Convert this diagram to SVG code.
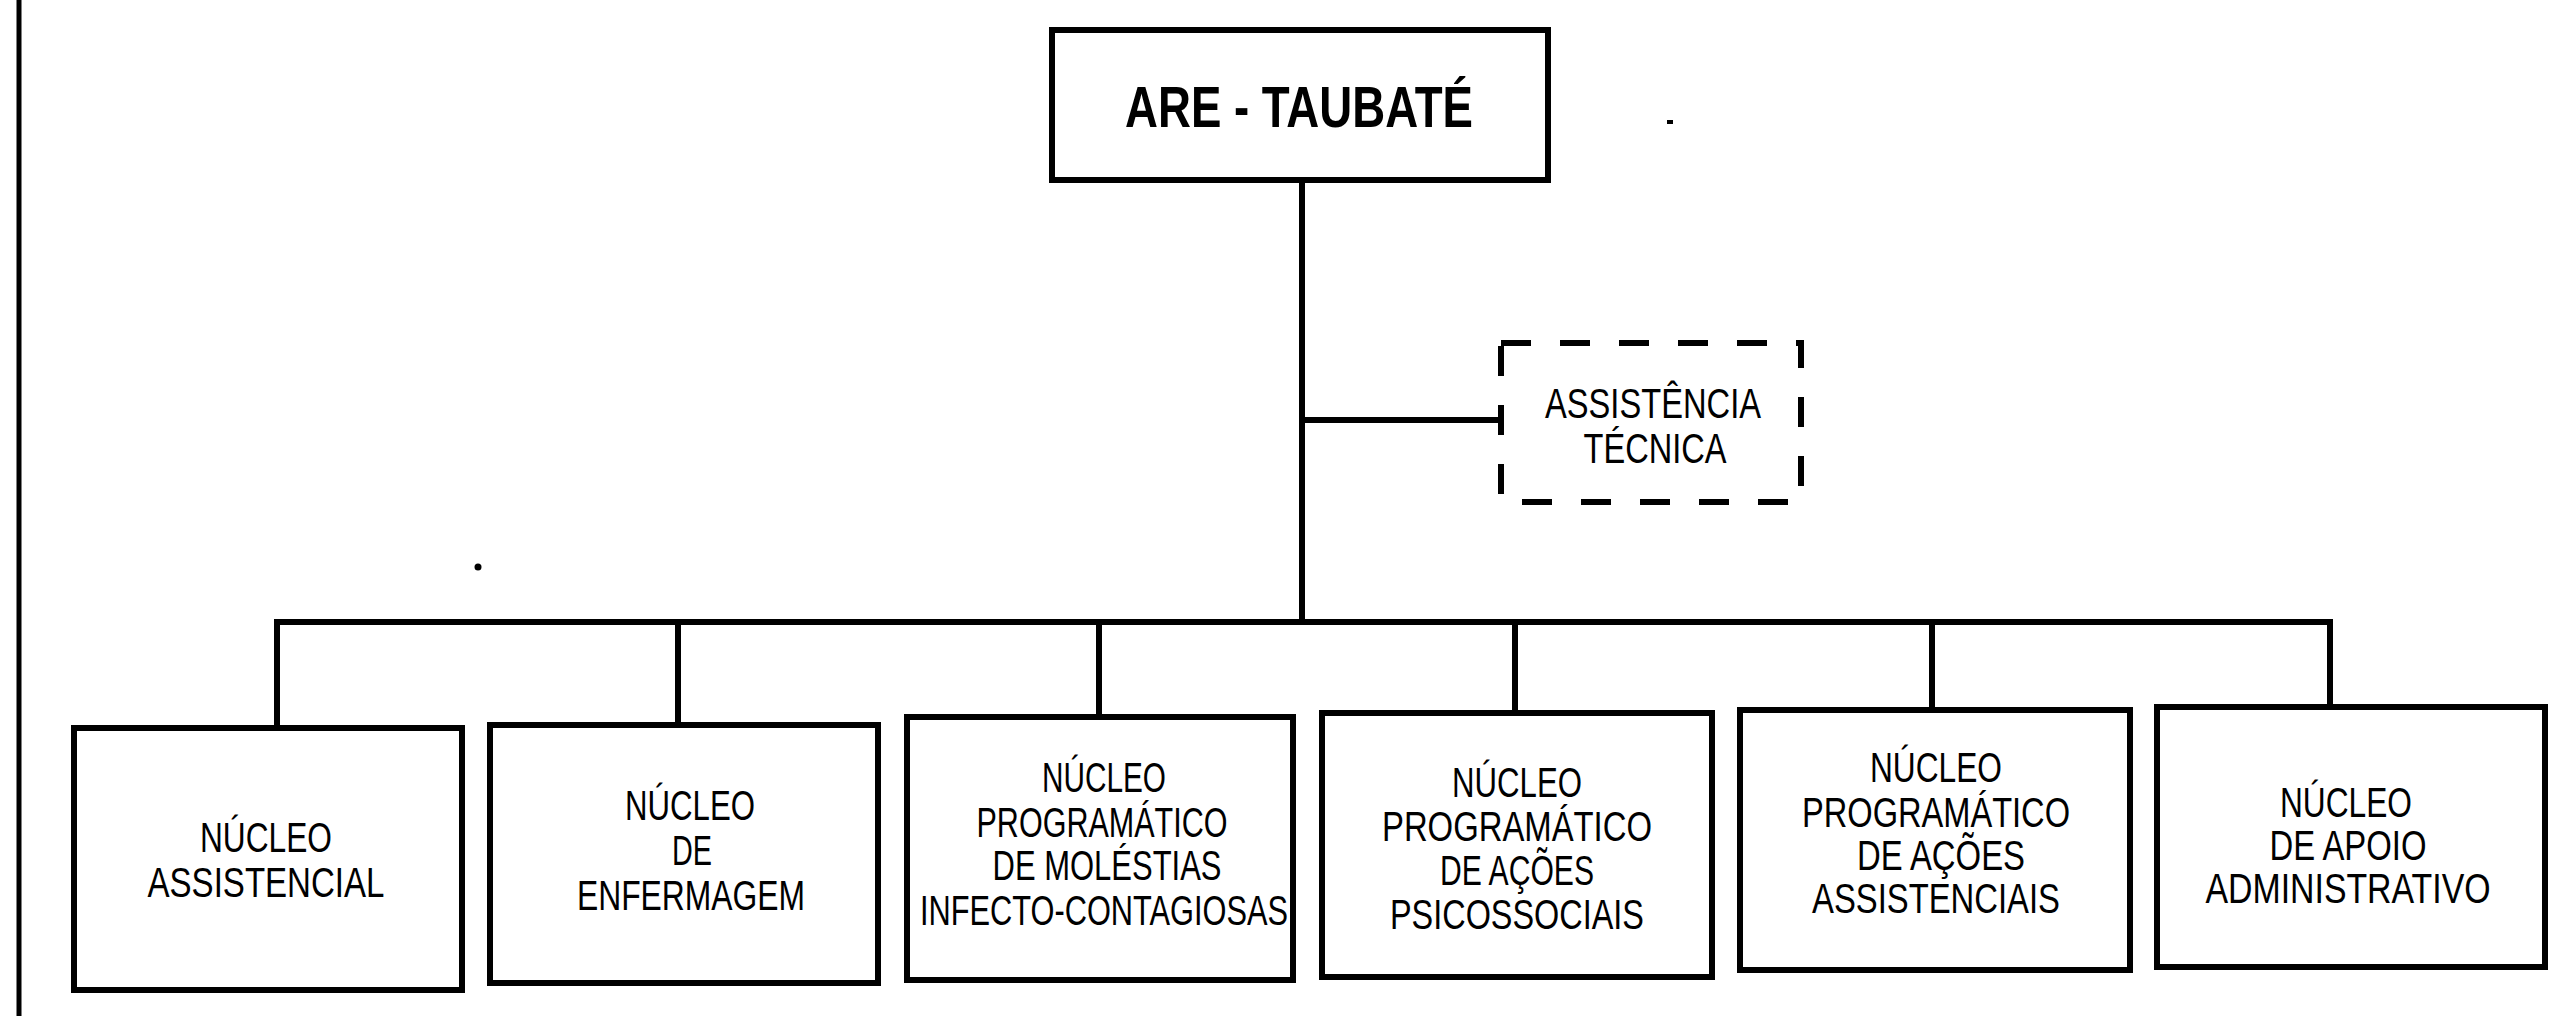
<svg xmlns="http://www.w3.org/2000/svg" width="2560" height="1016" viewBox="0 0 2560 1016">
<style>
.bg{fill:#fff}
.box{fill:#fff;stroke:#000;stroke-width:6}
.dash{fill:#fff;stroke:#000;stroke-width:6;stroke-dasharray:30 29}
.ln{stroke:#000;stroke-width:6;fill:none;stroke-linecap:square}
.t{font-family:"Liberation Sans Narrow","Liberation Sans",Arial,sans-serif;font-size:42px;fill:#000;text-anchor:middle}
.tb{font-family:"Liberation Sans Narrow","Liberation Sans",Arial,sans-serif;font-size:58px;font-weight:bold;fill:#000;text-anchor:middle}
</style>
<rect class="bg" x="0" y="0" width="2560" height="1016"/>
<line x1="19" y1="0" x2="19" y2="1016" stroke="#000" stroke-width="5"/>
<circle cx="478" cy="567" r="3.5" fill="#000"/>
<rect x="1667" y="120" width="6" height="4" fill="#000"/>
<g id="connectors">
<path class="ln" d="M1302 180 V622"/>
<path class="ln" d="M1302 420 H1501"/>
<path class="ln" d="M277 622 H2330"/>
<path class="ln" d="M277 622 V728"/>
<path class="ln" d="M678 622 V725"/>
<path class="ln" d="M1099 622 V717"/>
<path class="ln" d="M1515 622 V713"/>
<path class="ln" d="M1932 622 V710"/>
<path class="ln" d="M2330 622 V707"/>
</g>
<g id="are-taubate">
<rect class="box" x="1052" y="30" width="496" height="150" stroke-width="5"/>
<text class="tb" x="1299" y="127" textLength="348" lengthAdjust="spacingAndGlyphs">ARE - TAUBATÉ</text>
</g>
<g id="assistencia-tecnica">
<rect class="dash" x="1501" y="343" width="300" height="159"/>
<text class="t" x="1653" y="418" textLength="216" lengthAdjust="spacingAndGlyphs">ASSISTÊNCIA</text>
<text class="t" x="1655" y="463" textLength="143" lengthAdjust="spacingAndGlyphs">TÉCNICA</text>
</g>
<g id="nucleo-assistencial">
<rect class="box" x="74" y="728" width="388" height="262"/>
<text class="t" x="266" y="852" textLength="132" lengthAdjust="spacingAndGlyphs">NÚCLEO</text>
<text class="t" x="266" y="897" textLength="237" lengthAdjust="spacingAndGlyphs">ASSISTENCIAL</text>
</g>
<g id="nucleo-enfermagem">
<rect class="box" x="490" y="725" width="388" height="258"/>
<text class="t" x="690" y="820" textLength="130" lengthAdjust="spacingAndGlyphs">NÚCLEO</text>
<text class="t" x="692" y="865" textLength="40" lengthAdjust="spacingAndGlyphs">DE</text>
<text class="t" x="691" y="910" textLength="228" lengthAdjust="spacingAndGlyphs">ENFERMAGEM</text>
</g>
<g id="nucleo-molestias">
<rect class="box" x="907" y="717" width="386" height="263"/>
<text class="t" x="1104" y="792" textLength="124" lengthAdjust="spacingAndGlyphs">NÚCLEO</text>
<text class="t" x="1102" y="837" textLength="251" lengthAdjust="spacingAndGlyphs">PROGRAMÁTICO</text>
<text class="t" x="1107" y="880" textLength="229" lengthAdjust="spacingAndGlyphs">DE MOLÉSTIAS</text>
<text class="t" x="1104" y="925" textLength="368" lengthAdjust="spacingAndGlyphs">INFECTO-CONTAGIOSAS</text>
</g>
<g id="nucleo-psicossociais">
<rect class="box" x="1322" y="713" width="390" height="264"/>
<text class="t" x="1517" y="797" textLength="130" lengthAdjust="spacingAndGlyphs">NÚCLEO</text>
<text class="t" x="1517" y="841" textLength="270" lengthAdjust="spacingAndGlyphs">PROGRAMÁTICO</text>
<text class="t" x="1517" y="885" textLength="154" lengthAdjust="spacingAndGlyphs">DE AÇÕES</text>
<text class="t" x="1517" y="929" textLength="254" lengthAdjust="spacingAndGlyphs">PSICOSSOCIAIS</text>
</g>
<g id="nucleo-assistenciais">
<rect class="box" x="1740" y="710" width="390" height="260"/>
<text class="t" x="1936" y="782" textLength="132" lengthAdjust="spacingAndGlyphs">NÚCLEO</text>
<text class="t" x="1936" y="827" textLength="268" lengthAdjust="spacingAndGlyphs">PROGRAMÁTICO</text>
<text class="t" x="1941" y="870" textLength="168" lengthAdjust="spacingAndGlyphs">DE AÇÕES</text>
<text class="t" x="1936" y="913" textLength="248" lengthAdjust="spacingAndGlyphs">ASSISTENCIAIS</text>
</g>
<g id="nucleo-apoio">
<rect class="box" x="2157" y="707" width="388" height="260"/>
<text class="t" x="2346" y="817" textLength="132" lengthAdjust="spacingAndGlyphs">NÚCLEO</text>
<text class="t" x="2348" y="860" textLength="157" lengthAdjust="spacingAndGlyphs">DE APOIO</text>
<text class="t" x="2348" y="903" textLength="285" lengthAdjust="spacingAndGlyphs">ADMINISTRATIVO</text>
</g>
</svg>
